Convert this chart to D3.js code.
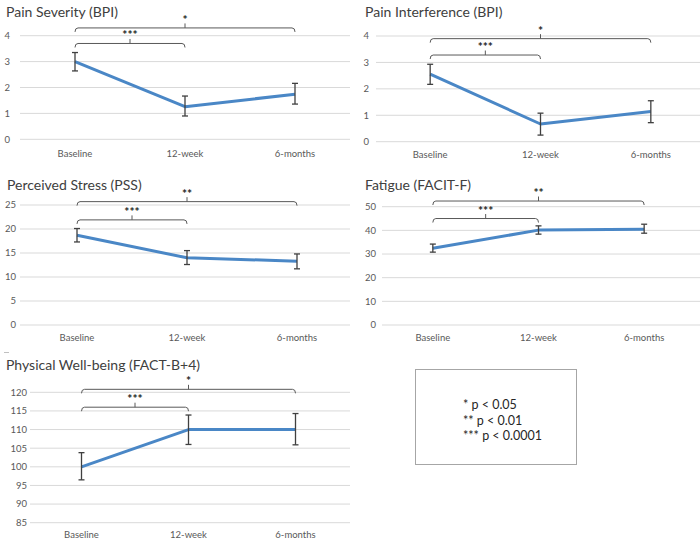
<!DOCTYPE html>
<html><head><meta charset="utf-8">
<script src="https://cdn.jsdelivr.net/npm/d3@7"></script>
<style>
html,body{margin:0;padding:0;background:#fff;}
svg{display:block;font-family:Lato,"Open Sans",sans-serif;}
</style></head>
<body>
<svg id="chart" width="700" height="541"></svg>
<script>
// ---------- DATA ----------
const categories = ["Baseline", "12-week", "6-months"];

const titles = ["Pain Severity (BPI)", "Pain Interference (BPI)", "Perceived Stress (PSS)", "Fatigue (FACIT-F)", "Physical Well-being (FACT-B+4)"];

const painSeverityMean = [3.0, 1.26, 1.74];
const painSeverityLow  = [2.64, 0.9, 1.36];
const painSeverityHigh = [3.35, 1.67, 2.16];

const painInterfMean = [2.56, 0.67, 1.14];
const painInterfLow  = [2.17, 0.25, 0.72];
const painInterfHigh = [2.93, 1.08, 1.55];

const stressMean = [18.7, 14.0, 13.3];
const stressLow  = [17.3, 12.6, 11.7];
const stressHigh = [20.1, 15.5, 14.8];

const fatigueMean = [32.4, 40.1, 40.5];
const fatigueLow  = [30.8, 38.4, 38.8];
const fatigueHigh = [34.2, 41.9, 42.6];

const pwbMean = [100, 110, 110];
const pwbLow  = [96.5, 106, 105.9];
const pwbHigh = [103.8, 113.9, 114.3];

const bpiTicks = [0, 1, 2, 3, 4];
const stressTicks = [0, 5, 10, 15, 20, 25];
const fatigueTicks = [0, 10, 20, 30, 40, 50];
const pwbTicks = [85, 90, 95, 100, 105, 110, 115, 120];

// significance brackets: [level (data units), comparison category, label]
const painSeverityBrackets = [[4.3, "6-months", "*"], [3.7, "12-week", "***"]];
const painInterfBrackets   = [[3.9, "6-months", "*"], [3.28, "12-week", "***"]];
const stressBrackets       = [[25.7, "6-months", "**"], [21.9, "12-week", "***"]];
const fatigueBrackets      = [[52.4, "6-months", "**"], [45.0, "12-week", "***"]];
const pwbBrackets          = [[120.8, "6-months", "*"], [116.0, "12-week", "***"]];

const legendLines = ["* p < 0.05", "** p < 0.01", "*** p < 0.0001"];

// ---------- LAYOUT ----------
const panels = [
  {title: titles[0], mean: painSeverityMean, low: painSeverityLow, high: painSeverityHigh, ticks: bpiTicks, dom: [0, 4], brackets: painSeverityBrackets,
   xr: [20, 350], yr: [139.3, 35.7], grid: [20, 350], tickX: 10, titleX: 6, titleY: 17, labY: 157},
  {title: titles[1], mean: painInterfMean, low: painInterfLow, high: painInterfHigh, ticks: bpiTicks, dom: [0, 4], brackets: painInterfBrackets,
   xr: [375, 706], yr: [141.7, 36], grid: [376, 700], tickX: 369, titleX: 365, titleY: 17, labY: 158},
  {title: titles[2], mean: stressMean, low: stressLow, high: stressHigh, ticks: stressTicks, dom: [0, 25], brackets: stressBrackets,
   xr: [22, 352], yr: [325, 205], grid: [20, 350], tickX: 16, titleX: 7, titleY: 190, labY: 341},
  {title: titles[3], mean: fatigueMean, low: fatigueLow, high: fatigueHigh, ticks: fatigueTicks, dom: [0, 50], brackets: fatigueBrackets,
   xr: [380, 697], yr: [325, 206.7], grid: [382, 700], tickX: 376, titleX: 365, titleY: 190, labY: 341},
  {title: titles[4], mean: pwbMean, low: pwbLow, high: pwbHigh, ticks: pwbTicks, dom: [85, 120], brackets: pwbBrackets,
   xr: [28, 349], yr: [522.7, 392.3], grid: [30, 350], tickX: 27, titleX: 6, titleY: 370.3, labY: 538}
];

const svg = d3.select("#chart");
const lineColor = "#4a87c6";
const errColor = "#404040";
const bracketColor = "#595959";

panels.forEach(p => {
  const g = svg.append("g");
  const x = d3.scalePoint().domain(categories).range(p.xr).padding(0.5);
  const y = d3.scaleLinear().domain(p.dom).range(p.yr);

  // gridlines
  g.selectAll("line.grid").data(p.ticks).join("line")
    .attr("x1", p.grid[0]).attr("x2", p.grid[1])
    .attr("y1", d => y(d)).attr("y2", d => y(d))
    .attr("stroke", "#d9d9d9").attr("stroke-width", 1);

  // y tick labels
  g.selectAll("text.yt").data(p.ticks).join("text")
    .attr("x", p.tickX).attr("y", d => y(d)).attr("dy", "0.35em")
    .attr("text-anchor", "end").attr("font-size", 9.5).attr("fill", "#595959")
    .text(d => d);

  // x labels
  g.selectAll("text.xt").data(categories).join("text")
    .attr("x", d => x(d)).attr("y", p.labY)
    .attr("text-anchor", "middle").attr("font-size", 9.5).attr("fill", "#595959")
    .text(d => d);

  // title
  g.append("text").attr("x", p.titleX).attr("y", p.titleY)
    .attr("font-size", 14).attr("fill", "#404040").text(p.title);

  // line
  const line = d3.line().x((d, i) => x(categories[i])).y(d => y(d));
  g.append("path").datum(p.mean).attr("d", line)
    .attr("fill", "none").attr("stroke", lineColor).attr("stroke-width", 3)
    .attr("stroke-linejoin", "round");

  // error bars
  categories.forEach((c, i) => {
    const cx = x(c);
    g.append("line").attr("x1", cx).attr("x2", cx).attr("y1", y(p.low[i])).attr("y2", y(p.high[i]))
      .attr("stroke", errColor).attr("stroke-width", 1.3);
    [p.low[i], p.high[i]].forEach(v => {
      g.append("line").attr("x1", cx - 3).attr("x2", cx + 3).attr("y1", y(v)).attr("y2", y(v))
        .attr("stroke", errColor).attr("stroke-width", 1.3);
    });
  });

  // brackets
  p.brackets.forEach(b => {
    const x1 = x(categories[0]), x2 = x(b[1]), yy = y(b[0]), xm = (x1 + x2) / 2;
    g.append("path")
      .attr("d", `M${x1},${yy + 4} Q${x1},${yy} ${x1 + 3},${yy} L${x2 - 3},${yy} Q${x2},${yy} ${x2},${yy + 4}`)
      .attr("fill", "none").attr("stroke", bracketColor).attr("stroke-width", 1);
    g.append("line").attr("x1", xm).attr("x2", xm).attr("y1", yy).attr("y2", yy - 4.5)
      .attr("stroke", bracketColor).attr("stroke-width", 1);
    g.append("text").attr("x", xm).attr("y", yy - 4)
      .attr("text-anchor", "middle").attr("font-size", 12).attr("font-weight", "bold").attr("fill", "#262626")
      .text(b[2]);
  });
});

// small mark at left edge
svg.append("line").attr("x1", 4).attr("x2", 9).attr("y1", 352.5).attr("y2", 352.5)
  .attr("stroke", "#c0c0c0").attr("stroke-width", 1);

// legend box
const lg = svg.append("g");
lg.append("rect").attr("x", 415.5).attr("y", 369.5).attr("width", 161).attr("height", 95)
  .attr("fill", "#fff").attr("stroke", "#a6a6a6").attr("stroke-width", 1);
lg.selectAll("text").data(legendLines).join("text")
  .attr("x", 463).attr("y", (d, i) => 409 + i * 15.5)
  .attr("font-size", 12.5).attr("fill", "#262626")
  .text(d => d);
</script>
</body></html>
